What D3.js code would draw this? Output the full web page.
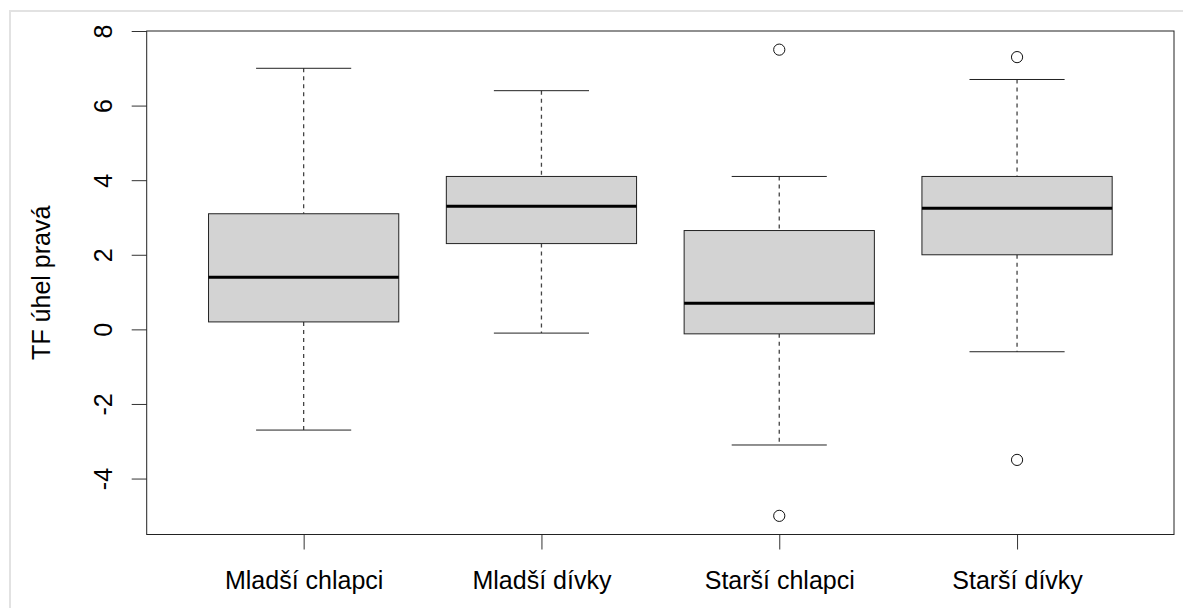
<!DOCTYPE html>
<html>
<head>
<meta charset="utf-8">
<script src="https://cdn.jsdelivr.net/npm/d3@7"></script>
<style>
	html, body { margin: 0; padding: 0; background: #fff; }
	svg { display: block; font-family: "Liberation Sans", Arial, sans-serif; }
</style>
</head>
<body>
<svg id="chart" width="1183" height="608"></svg>
<script>
// hodnoty
var groups = ["Mladší chlapci", "Mladší dívky", "Starší chlapci", "Starší dívky"];
var whiskerLow = [-2.7, -0.1, -3.1, -0.6];
var q1 = [0.2, 2.3, -0.12, 2.0];
var median = [1.4, 3.3, 0.7, 3.25];
var q3 = [3.1, 4.1, 2.65, 4.1];
var whiskerHigh = [7.0, 6.4, 4.1, 6.7];
var outliers = [[], [], [7.5, -5.0], [7.3, -3.5]];
var yTicks = [-4, -2, 0, 2, 4, 6, 8];
var yTitle = "TF úhel pravá";

var plot = { left: 146.7, right: 1174, top: 31, bottom: 534.5 };

var svg = d3.select("#chart");

// světle šedý rámeček stránky
svg.append("rect")
	.attr("x", 10).attr("y", 11)
	.attr("width", 1200).attr("height", 620)
	.attr("fill", "none")
	.attr("stroke", "#e2e2e2")
	.attr("stroke-width", 2);

var x = d3.scaleLinear()
	.domain([0.34, groups.length + 0.66])
	.range([plot.left, plot.right]);

var y = d3.scaleLinear()
	.domain([-5.5, 8])
	.range([plot.bottom, plot.top]);

var boxHalf = x(1.4) - x(1),
	capHalf = boxHalf / 2;

var data = groups.map(function(g, i) {
	return {
		name: g, pos: i + 1,
		lo: whiskerLow[i], q1: q1[i], med: median[i], q3: q3[i], hi: whiskerHigh[i],
		out: outliers[i]
	};
});

var boxes = svg.append("g").selectAll("g.box")
	.data(data)
	.enter().append("g")
	.attr("class", "box");

// vousy (čárkovaně)
boxes.append("line")
	.attr("x1", function(d) { return x(d.pos); })
	.attr("x2", function(d) { return x(d.pos); })
	.attr("y1", function(d) { return y(d.hi); })
	.attr("y2", function(d) { return y(d.q3); })
	.attr("stroke", "#444").attr("stroke-width", 1.3).attr("stroke-dasharray", "4,4");

boxes.append("line")
	.attr("x1", function(d) { return x(d.pos); })
	.attr("x2", function(d) { return x(d.pos); })
	.attr("y1", function(d) { return y(d.q1); })
	.attr("y2", function(d) { return y(d.lo); })
	.attr("stroke", "#444").attr("stroke-width", 1.3).attr("stroke-dasharray", "4,4");

// konce vousů
["hi", "lo"].forEach(function(k) {
	boxes.append("line")
		.attr("x1", function(d) { return x(d.pos) - capHalf; })
		.attr("x2", function(d) { return x(d.pos) + capHalf; })
		.attr("y1", function(d) { return y(d[k]); })
		.attr("y2", function(d) { return y(d[k]); })
		.attr("stroke", "#222");
});

boxes.append("rect")
	.attr("x", function(d) { return x(d.pos) - boxHalf; })
	.attr("width", 2 * boxHalf)
	.attr("y", function(d) { return y(d.q3); })
	.attr("height", function(d) { return y(d.q1) - y(d.q3); })
	.attr("fill", "#d3d3d3")
	.attr("stroke", "#222");

boxes.append("line")
	.attr("x1", function(d) { return x(d.pos) - boxHalf; })
	.attr("x2", function(d) { return x(d.pos) + boxHalf; })
	.attr("y1", function(d) { return y(d.med); })
	.attr("y2", function(d) { return y(d.med); })
	.attr("stroke", "#000").attr("stroke-width", 3);

boxes.selectAll("circle")
	.data(function(d) { return d.out.map(function(v) { return { pos: d.pos, v: v }; }); })
	.enter().append("circle")
	.attr("cx", function(d) { return x(d.pos); })
	.attr("cy", function(d) { return y(d.v); })
	.attr("r", 5.6)
	.attr("fill", "none")
	.attr("stroke", "#111");

// osy
var yAxis = svg.append("g")
	.attr("transform", "translate(" + plot.left + ",0)")
	.call(d3.axisLeft(y).tickValues(yTicks).tickSize(15).tickFormat(String));

yAxis.selectAll("text")
	.attr("x", null).attr("dy", null)
	.attr("transform", "translate(-35,0) rotate(-90)")
	.style("text-anchor", "middle");

var xAxis = svg.append("g")
	.attr("transform", "translate(0," + plot.bottom + ")")
	.call(d3.axisBottom(x).tickValues(data.map(function(d) { return d.pos; }))
		.tickSize(15)
		.tickFormat(function(p) { return groups[p - 1]; }));

xAxis.selectAll("text").attr("y", 54.5).attr("dy", null);

svg.selectAll(".domain").remove();
svg.selectAll(".tick line").attr("stroke", "#333");
svg.selectAll(".tick text")
	.attr("fill", "#000")
	.style("font-size", "25px")
	.style("font-family", "'Liberation Sans', Arial, sans-serif");

// rámeček grafu
svg.append("rect")
	.attr("x", plot.left).attr("y", plot.top)
	.attr("width", plot.right - plot.left)
	.attr("height", plot.bottom - plot.top)
	.attr("fill", "none")
	.attr("stroke", "#222");

svg.append("text")
	.attr("transform", "translate(50," + ((plot.top + plot.bottom) / 2) + ") rotate(-90)")
	.attr("text-anchor", "middle")
	.style("font-size", "25px")
	.text(yTitle);
</script>
</body>
</html>
